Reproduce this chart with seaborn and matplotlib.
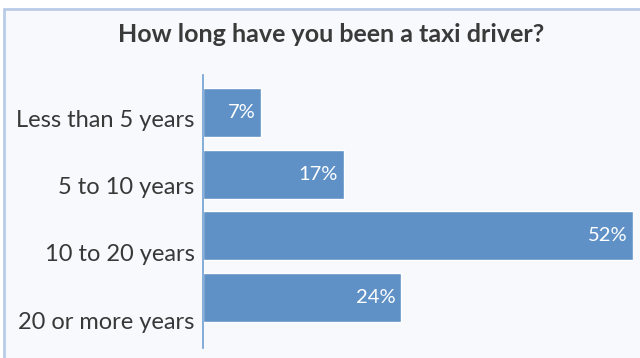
import matplotlib
matplotlib.use("Agg")
import matplotlib.pyplot as plt
import seaborn as sns
import pandas as pd
from matplotlib.lines import Line2D

categories = ["Less than 5 years", "5 to 10 years", "10 to 20 years", "20 or more years"]
values = [7, 17, 52, 24]
labels = ["7%", "17%", "52%", "24%"]
title = "How long have you been a taxi driver?"

sns.set_style("white")
plt.rcParams["font.family"] = ["Lato", "DejaVu Sans"]

W, H = 640, 358
fig = plt.figure(figsize=(6.4, 3.58), dpi=100, facecolor="white")

bg = "#f8f9fc"
# panel background
fig.patches.append(plt.Rectangle((4 / W, 0), 1, 1 - 9 / H, transform=fig.transFigure,
                                 facecolor=bg, edgecolor="none", zorder=-5))
border = "#b9cbe6"
fig.lines.append(Line2D([4 / W, 1], [1 - 9 / H, 1 - 9 / H], transform=fig.transFigure,
                        color=border, lw=2, zorder=-4))
fig.lines.append(Line2D([4 / W, 4 / W], [0, 1 - 9 / H], transform=fig.transFigure,
                        color=border, lw=2, zorder=-4))

ax = fig.add_axes([203 / W, 1 - 348 / H, 430 / W, (348 - 75) / H])
ax.patch.set_alpha(0)

df = pd.DataFrame({"cat": categories, "val": values})
sns.barplot(data=df, y="cat", x="val", orient="h", color="#5f91c6", saturation=1,
            width=0.8, ax=ax)

ax.set_xlim(0, 52)
ax.set_ylim(3.82, -0.61)
for s in ["top", "right", "bottom"]:
    ax.spines[s].set_visible(False)
ax.spines["left"].set_color("#6f9fd2")
ax.spines["left"].set_linewidth(1.2)
ax.set_xticks([])
ax.set_xlabel("")
ax.set_ylabel("")
# category labels sit slightly lower than bar centres, as in the reference
ax.set_yticks([0.09 + i * 1.094 for i in range(len(categories))], categories)
ax.tick_params(axis="y", length=0, pad=6, labelsize=17, labelcolor="#383838")

for i, (v, lab) in enumerate(zip(values, labels)):
    ax.annotate(lab, xy=(v, i), xytext=(-4, 0), textcoords="offset points",
                ha="right", va="center", color="white", fontsize=14.5)

fig.text(331 / W, 1 - 35 / H, title, ha="center", va="center", fontsize=18,
         fontweight="bold", color="#3a3a3a")

fig.savefig("out.png", dpi=100, facecolor=fig.get_facecolor())
